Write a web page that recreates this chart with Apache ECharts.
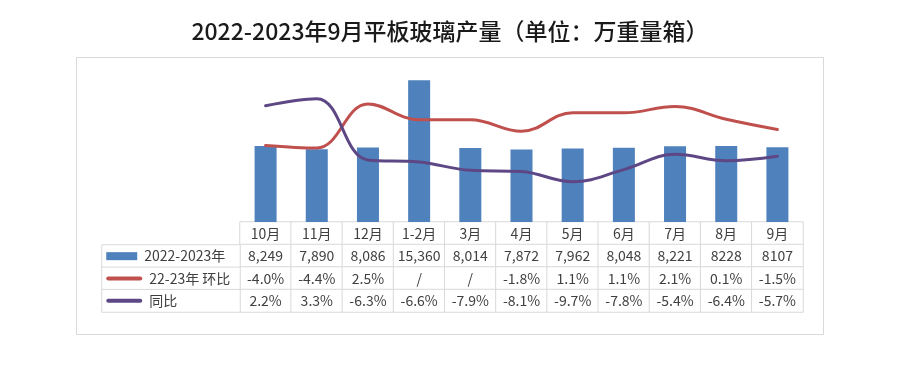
<!DOCTYPE html>
<html>
<head>
<meta charset="utf-8">
<script src="https://cdn.jsdelivr.net/npm/echarts@6/dist/echarts.min.js"></script>
<style>
html,body{margin:0;padding:0;background:#fff;}
#chart{width:900px;height:366px;}
</style>
</head>
<body>
<div id="chart"></div>
<script>
// ---- data ----
const months = ['10月','11月','12月','1-2月','3月','4月','5月','6月','7月','8月','9月'];
const production = [8249, 7890, 8086, 15360, 8014, 7872, 7962, 8048, 8221, 8228, 8107];
const productionLabels = ['8,249','7,890','8,086','15,360','8,014','7,872','7,962','8,048','8,221','8228','8107'];
const huanbi = [-4.0, -4.4, 2.5, null, null, -1.8, 1.1, 1.1, 2.1, 0.1, -1.5];
const huanbiLabels = ['-4.0%','-4.4%','2.5%','/','/','-1.8%','1.1%','1.1%','2.1%','0.1%','-1.5%'];
const tongbi = [2.2, 3.3, -6.3, -6.6, -7.9, -8.1, -9.7, -7.8, -5.4, -6.4, -5.7];
const tongbiLabels = ['2.2%','3.3%','-6.3%','-6.6%','-7.9%','-8.1%','-9.7%','-7.8%','-5.4%','-6.4%','-5.7%'];
const seriesNames = ['2022-2023年', '22-23年 环比', '同比'];
const titleText = '2022-2023年9月平板玻璃产量（单位：万重量箱）';

// ---- derived ----
const tableRows = [months, productionLabels, huanbiLabels, tongbiLabels];
const tableCells = [];
tableRows.forEach((row, r) => row.forEach((_, c) => tableCells.push([c, r, 0])));
const legendCells = seriesNames.map((_, r) => [0, r, 0]);
const iconKeys = ['bar', 'red', 'purple'];

const FONT = '"Noto Sans CJK SC", "Noto Sans", sans-serif';
const BLUE = '#4f81bd', RED = '#c0504d', PURPLE = '#5e4785';
const BORDER = '#d9d9d9', TEXT = '#404040';

const hiddenCat = (gi, data) => ({
  type: 'category', gridIndex: gi, data: data, boundaryGap: true,
  axisLine: {show: false}, axisTick: {show: false}, axisLabel: {show: false}, splitLine: {show: false}
});
const hiddenVal = (gi, min, max) => ({
  type: 'value', gridIndex: gi, min: min, max: max,
  axisLine: {show: false}, axisTick: {show: false}, axisLabel: {show: false}, splitLine: {show: false}
});

const chart = echarts.init(document.getElementById('chart'), null, {renderer: 'canvas'});
chart.setOption({
  animation: false,
  backgroundColor: '#fff',
  textStyle: {fontFamily: FONT},
  title: {
    text: titleText, left: 'center', top: 15,
    textStyle: {fontFamily: FONT, fontSize: 23, fontWeight: 500, color: '#1a1a1a'}
  },
  graphic: [{
    type: 'rect', left: 74, top: 55, z: -10,
    shape: {width: 747, height: 277},
    style: {fill: 'none', stroke: BORDER, lineWidth: 1}
  }],
  grid: [
    {left: 240, right: 97, top: 56, bottom: 144},
    {left: 240, right: 97, top: 222, bottom: 54},
    {left: 102, right: 660, top: 245, bottom: 54}
  ],
  xAxis: [
    hiddenCat(0, months),
    hiddenCat(1, months),
    hiddenCat(2, ['legend'])
  ],
  yAxis: [
    hiddenVal(0, 0, 18000),
    hiddenVal(0, -16, 10),
    Object.assign(hiddenCat(1, ['h', 'p', 'hb', 'tb']), {inverse: true}),
    Object.assign(hiddenCat(2, seriesNames), {inverse: true})
  ],
  series: [
    {
      name: seriesNames[0], type: 'bar', xAxisIndex: 0, yAxisIndex: 0,
      data: production, barWidth: '43%', itemStyle: {color: BLUE}, z: 2
    },
    {
      name: seriesNames[1], type: 'line', xAxisIndex: 0, yAxisIndex: 1,
      data: huanbi.map(v => v == null ? 0 : v), smooth: 0.4, showSymbol: false, symbol: 'none',
      lineStyle: {color: RED, width: 3, cap: 'round'}, itemStyle: {color: RED}, z: 3
    },
    {
      name: seriesNames[2], type: 'line', xAxisIndex: 0, yAxisIndex: 1,
      data: tongbi, smooth: 0.4, showSymbol: false, symbol: 'none',
      lineStyle: {color: PURPLE, width: 3, cap: 'round'}, itemStyle: {color: PURPLE}, z: 4
    },
    {
      type: 'heatmap', xAxisIndex: 1, yAxisIndex: 2, data: tableCells,
      itemStyle: {color: '#ffffff', borderColor: BORDER, borderWidth: 1},
      label: {
        show: true, color: TEXT, fontFamily: FONT, fontSize: 14,
        formatter: p => tableRows[p.value[1]][p.value[0]]
      },
      emphasis: {disabled: true}, silent: true, z: 1
    },
    {
      type: 'heatmap', xAxisIndex: 2, yAxisIndex: 3, data: legendCells,
      itemStyle: {color: '#ffffff', borderColor: BORDER, borderWidth: 1},
      label: {
        show: true, position: 'insideLeft', distance: 5, color: TEXT, fontFamily: FONT, fontSize: 14,
        formatter: p => '{' + iconKeys[p.value[1]] + '|}{t|' + seriesNames[p.value[1]] + '}',
        rich: {
          bar: {width: 31, height: 8, backgroundColor: BLUE},
          red: {width: 36, height: 4, borderRadius: 2, backgroundColor: RED},
          purple: {width: 36, height: 4, borderRadius: 2, backgroundColor: PURPLE},
          t: {color: TEXT, fontFamily: FONT, fontSize: 14, padding: [0, 0, 0, 7]}
        }
      },
      emphasis: {disabled: true}, silent: true, z: 1
    }
  ]
});
</script>
</body>
</html>
